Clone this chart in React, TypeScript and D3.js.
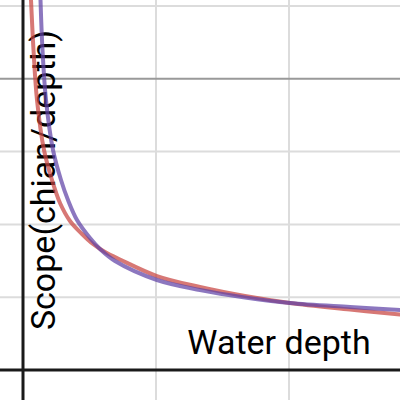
import React from "react";
import * as d3 from "d3";

// Data (x: water depth units, y: scope units)
const redX = [0.0526, 0.0602, 0.0789, 0.1053, 0.1579, 0.218, 0.2782, 0.3534, 0.4436, 0.5263, 0.6165, 0.7293, 1.0075, 1.3308, 1.6692, 2.0075, 2.4586, 2.8346, 2.9];
const redY = [5.357, 5.082, 4.396, 3.709, 3.022, 2.61, 2.294, 2.047, 1.868, 1.731, 1.621, 1.518, 1.291, 1.14, 1.016, 0.92, 0.831, 0.762, 0.75];
const purpleX = [0.1278, 0.1316, 0.1466, 0.1729, 0.2256, 0.2857, 0.3383, 0.406, 0.5038, 0.5865, 0.6917, 1.0075, 1.3308, 1.6692, 2.0075, 2.4586, 2.8346, 2.9];
const purpleY = [5.357, 5.082, 4.396, 3.709, 3.022, 2.61, 2.335, 2.06, 1.813, 1.648, 1.497, 1.236, 1.099, 0.996, 0.92, 0.865, 0.824, 0.818];
const xGrid = [1, 2];
const yGrid = [1, 2, 3, 5];
const yMajor = [4];
const xLabel = "Water depth";
const yLabel = "Scope(chian/depth)";

export default function App() {
  const W = 400, H = 400;
  const x = d3.scaleLinear().domain([0, 1]).range([23, 156]);
  const y = d3.scaleLinear().domain([0, 1]).range([370, 297.2]);
  const line = d3.line<[number, number]>()
    .x(d => x(d[0]))
    .y(d => y(d[1]))
    .curve(d3.curveCatmullRom.alpha(0.5));
  const red = redX.map((v, i) => [v, redY[i]] as [number, number]);
  const purple = purpleX.map((v, i) => [v, purpleY[i]] as [number, number]);
  return (
    <svg width={W} height={H} style={{ position: "absolute", left: 0, top: 0 }}
      fontFamily="Roboto, 'Liberation Sans', sans-serif">
      <defs>
        <clipPath id="c"><rect x={0} y={0} width={W} height={H} /></clipPath>
      </defs>
      <rect width={W} height={H} fill="#fff" />
      {xGrid.map(g => (
        <line key={"xg" + g} x1={x(g)} x2={x(g)} y1={0} y2={H} stroke="#dcdcdc" strokeWidth={2} />
      ))}
      {yGrid.map(g => (
        <line key={"yg" + g} x1={0} x2={W} y1={y(g)} y2={y(g)} stroke="#dcdcdc" strokeWidth={2} />
      ))}
      {yMajor.map(g => (
        <line key={"ym" + g} x1={0} x2={W} y1={y(g)} y2={y(g)} stroke="#999" strokeWidth={2} />
      ))}
      <line x1={x(0)} x2={x(0)} y1={0} y2={H} stroke="#1a1a1a" strokeWidth={3} />
      <line x1={0} x2={W} y1={y(0)} y2={y(0)} stroke="#1a1a1a" strokeWidth={3} />
      <text x={279} y={354} fontSize={34} textAnchor="middle" fill="#000">{xLabel}</text>
      <text transform="translate(55,180) rotate(-90)" fontSize={34} textAnchor="middle" fill="#000">{yLabel}</text>
      <g clipPath="url(#c)" fill="none" strokeLinecap="round" strokeLinejoin="round">
        <path d={line(red) || ""} stroke="#c74440" strokeOpacity={0.72} strokeWidth={4} />
        <path d={line(purple) || ""} stroke="#6042a6" strokeOpacity={0.72} strokeWidth={4} />
      </g>
    </svg>
  );
}
